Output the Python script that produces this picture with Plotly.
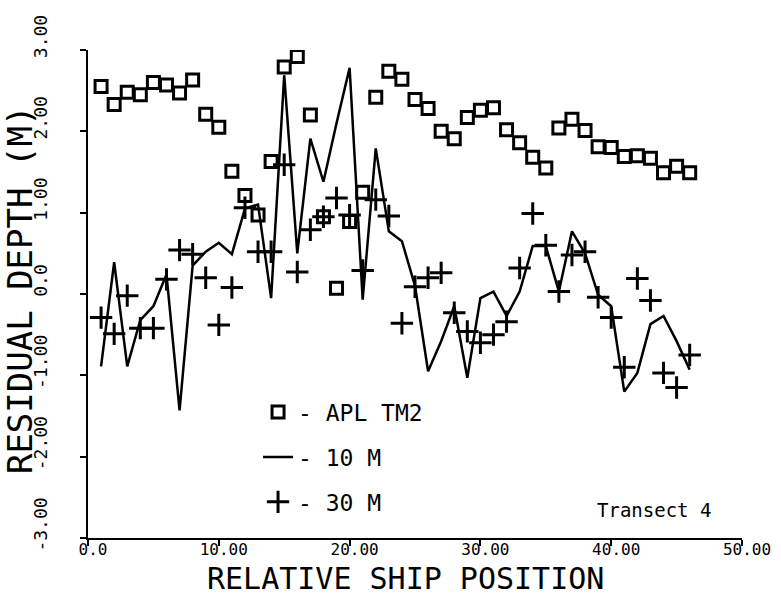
import plotly.graph_objects as go

# Relative ship position (x) for every sample
positions = list(range(1, 47))

# APL TM2 residual depth (m)
apl_tm2 = [2.55, 2.33, 2.48, 2.45, 2.60, 2.57, 2.47, 2.63, 2.21, 2.05,
           1.51, 1.21, 0.97, 1.63, 2.79, 2.92, 2.20, 0.95, 0.07, 0.89,
           1.25, 2.42, 2.74, 2.64, 2.39, 2.28, 2.00, 1.91, 2.17, 2.26,
           2.29, 2.02, 1.86, 1.68, 1.55, 2.04, 2.15, 2.01, 1.81, 1.80,
           1.69, 1.70, 1.67, 1.49, 1.57, 1.49]

# 10 M residual depth (m)
res_10m = [-0.89, 0.39, -0.89, -0.32, -0.15, 0.24, -1.43, 0.35, 0.52, 0.63,
           0.49, 1.05, 1.10, -0.05, 2.69, 0.50, 1.91, 1.38, 2.10, 2.78,
           -0.07, 1.79, 0.77, 0.65, 0.10, -0.95, -0.58, -0.15, -1.03, -0.05,
           0.03, -0.27, 0.03, 0.59, 0.59, 0.03, 0.77, 0.50, -0.01, -0.15,
           -1.20, -0.97, -0.37, -0.27, -0.58, -0.93]

# 30 M residual depth (m)
res_30m = [-0.29, -0.49, -0.02, -0.42, -0.42, 0.18, 0.54, 0.49, 0.20, -0.38,
           0.08, 1.06, 0.52, 0.52, 1.59, 0.27, 0.79, 0.95, 1.18, 0.97,
           0.29, 1.16, 0.96, -0.36, 0.09, 0.20, 0.26, -0.23, -0.46, -0.60,
           -0.50, -0.34, 0.32, 0.99, 0.60, 0.03, 0.48, 0.52, -0.04, -0.29,
           -0.90, 0.19, -0.08, -0.97, -1.15, -0.75]

x_ticks = [0, 10, 20, 30, 40, 50]
x_tick_text = ["0.0", "10.00", "20.00", "30.00", "40.00", "50.00"]
y_ticks = [-3, -2, -1, 0, 1, 2, 3]
y_tick_text = ["-3.00", "-2.00", "-1.00", "0.0", "1.00", "2.00", "3.00"]

x_title = "RELATIVE SHIP POSITION"
y_title = "RESIDUAL DEPTH (M)"

FONT = "DejaVu Sans Mono"
PAD = "\u00a0\u00a0"  # leading padding lifts the rotated y labels above their ticks

fig = go.Figure()
fig.add_trace(go.Scatter(
    x=positions, y=apl_tm2, mode="markers", name="- APL TM2",
    legendgroup="a",
    marker=dict(symbol="square-open", size=12, color="black",
                line=dict(width=3, color="black")),
))
fig.add_trace(go.Scatter(
    x=positions, y=res_10m, mode="lines", name="- 10 M",
    legendgroup="b",
    line=dict(color="black", width=2.5),
))
fig.add_trace(go.Scatter(
    x=positions, y=res_30m, mode="markers", name="- 30 M",
    legendgroup="c",
    marker=dict(symbol="cross-thin", size=16, color="black",
                line=dict(width=3, color="black")),
))

fig.add_annotation(x=43.3, y=-2.65, xref="x", yref="y", text="Transect 4",
                   showarrow=False, font=dict(family=FONT, size=19, color="black"))
fig.add_annotation(x=0.485, y=-0.083, xref="paper", yref="paper", text=x_title,
                   showarrow=False, xanchor="center", yanchor="middle",
                   font=dict(family=FONT, size=30, color="black"))
fig.add_annotation(x=-0.104, y=0.508, xref="paper", yref="paper", text=y_title,
                   showarrow=False, xanchor="center", yanchor="middle", textangle=-90,
                   font=dict(family=FONT, size=34, color="black"))

fig.update_layout(
    width=781, height=596,
    margin=dict(l=88, r=39, t=50, b=58, autoexpand=False),
    paper_bgcolor="white", plot_bgcolor="white",
    font=dict(family=FONT, color="black"),
    showlegend=True,
    legend=dict(x=0.26, y=0.302, xanchor="left", yanchor="top",
                bgcolor="rgba(0,0,0,0)", tracegroupgap=12,
                font=dict(family=FONT, size=23, color="black")),
    xaxis=dict(range=[0, 50], tickvals=x_ticks, ticktext=x_tick_text,
               showline=True, linecolor="black", linewidth=2,
               ticks="outside", ticklen=6, tickwidth=2, tickcolor="black",
               showgrid=False, zeroline=False, ticklabelshift=5,
               ticklabelstandoff=-10, automargin=False,
               tickfont=dict(family=FONT, size=16, color="black")),
    yaxis=dict(range=[-3, 3], tickvals=y_ticks,
               ticktext=[PAD + t for t in y_tick_text],
               showline=True, linecolor="black", linewidth=2,
               ticks="outside", ticklen=6, tickwidth=2, tickcolor="black",
               showgrid=False, zeroline=False, tickangle=-90,
               ticklabelstandoff=26, automargin=False,
               tickfont=dict(family=FONT, size=18, color="black")),
)

fig.write_html("out.html")
